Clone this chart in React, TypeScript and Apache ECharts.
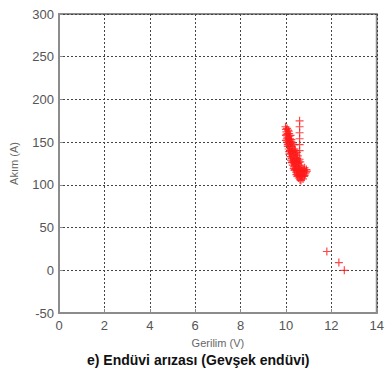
import React, { useEffect, useRef } from "react";
import * as echarts from "echarts";

const xTicks = [0, 2, 4, 6, 8, 10, 12, 14];
const yTicks = [-50, 0, 50, 100, 150, 200, 250, 300];

const clusterPoints: [number, number][] = [
  [9.98, 168], [10.0, 165], [10.05, 166], [10.02, 162], [10.08, 160], [10.12, 163], [10.0, 158],
  [10.05, 156], [10.1, 155], [10.15, 157], [10.2, 158], [10.03, 159], [10.09, 164], [10.14, 160],
  [10.0, 152], [10.05, 150], [10.1, 149], [10.15, 151], [10.2, 148], [10.25, 150], [10.3, 149], [10.35, 147],
  [10.04, 154], [10.12, 153], [10.18, 154], [10.24, 153], [10.08, 147], [10.16, 146], [10.26, 145],
  [10.08, 145], [10.12, 142], [10.18, 140], [10.22, 143], [10.28, 141], [10.32, 139], [10.38, 142], [10.42, 140], [10.48, 138],
  [10.14, 139], [10.2, 137], [10.26, 138], [10.34, 136], [10.4, 137], [10.45, 135], [10.52, 134],
  [10.15, 136], [10.2, 133], [10.25, 131], [10.3, 134], [10.35, 130], [10.4, 132], [10.45, 129], [10.5, 131], [10.55, 128], [10.6, 130],
  [10.22, 129], [10.28, 127], [10.33, 128], [10.38, 126], [10.44, 127], [10.5, 125], [10.56, 126], [10.63, 127],
  [10.25, 126], [10.3, 123], [10.35, 121], [10.42, 124], [10.48, 122], [10.55, 120], [10.6, 123], [10.68, 121], [10.75, 119], [10.82, 120], [10.9, 118],
  [10.34, 119], [10.4, 118], [10.46, 119], [10.52, 117], [10.58, 118], [10.65, 117], [10.72, 116], [10.8, 117], [10.88, 115],
  [10.38, 117], [10.45, 115], [10.5, 113], [10.56, 116], [10.62, 114], [10.7, 112], [10.78, 115], [10.85, 113], [10.92, 116],
  [10.46, 112], [10.53, 111], [10.6, 111], [10.66, 110], [10.73, 110], [10.82, 111],
  [10.5, 110], [10.56, 108], [10.62, 106], [10.68, 109], [10.75, 107], [10.8, 110], [10.66, 105],
];
const columnPoints: [number, number][] = [
  [10.6, 175], [10.6, 168], [10.6, 161], [10.6, 154], [10.6, 147], [10.6, 140],
];
const outlierPoints: [number, number][] = [
  [11.8, 22], [12.33, 9], [12.57, 0],
];

const plusSymbol =
  "path://M-1,-0.15 L1,-0.15 L1,0.15 L-1,0.15 Z M-0.15,-1 L0.15,-1 L0.15,1 L-0.15,1 Z";

export default function App() {
  const ref = useRef<HTMLDivElement>(null);
  useEffect(() => {
    if (!ref.current) return;
    const chart = echarts.init(ref.current, null, { renderer: "svg" });
    const labelStyle = { color: "#555", fontSize: 13, fontFamily: "Liberation Sans, Arial, sans-serif" };
    const split = { show: true, lineStyle: { color: "#444", type: [2, 2] as any, width: 1 } };
    chart.setOption({
      animation: false,
      backgroundColor: "#fff",
      grid: { left: 58, right: 7, top: 14, bottom: 60, show: true, borderColor: "#8c8c8c", borderWidth: 2, backgroundColor: "transparent" },
      xAxis: {
        type: "value", min: xTicks[0], max: xTicks[xTicks.length - 1], interval: 2,
        name: "Gerilim (V)", nameLocation: "middle", nameGap: 24,
        nameTextStyle: { color: "#666", fontSize: 11, fontFamily: "Liberation Sans, Arial, sans-serif" },
        axisLine: { show: true, onZero: false, lineStyle: { color: "#8c8c8c", width: 2 } },
        axisTick: { show: true, inside: true, length: 4, lineStyle: { color: "#8c8c8c" } },
        axisLabel: { ...labelStyle, margin: 6 },
        splitLine: split,
      },
      yAxis: {
        type: "value", min: yTicks[0], max: yTicks[yTicks.length - 1], interval: 50,
        name: "Akım (A)", nameLocation: "middle", nameGap: 40, nameRotate: 90,
        nameTextStyle: { color: "#666", fontSize: 11, fontFamily: "Liberation Sans, Arial, sans-serif" },
        axisLine: { show: true, onZero: false, lineStyle: { color: "#8c8c8c", width: 2 } },
        axisTick: { show: true, inside: true, length: 4, lineStyle: { color: "#8c8c8c" } },
        axisLabel: { ...labelStyle, margin: 5 },
        splitLine: split,
      },
      graphic: [
        {
          type: "text", left: 87, top: 353,
          style: {
            text: "e) Endüvi arızası (Gevşek endüvi)", fill: "#111",
            font: "bold 14px 'Liberation Sans', Arial, sans-serif",
          },
        },
      ],
      series: [
        { type: "scatter", data: clusterPoints, symbol: plusSymbol, symbolSize: 8, itemStyle: { color: "#ff1a1a" }, silent: true },
        { type: "scatter", data: columnPoints, symbol: plusSymbol, symbolSize: 8, itemStyle: { color: "#ff1a1a" }, silent: true },
        { type: "scatter", data: outlierPoints, symbol: plusSymbol, symbolSize: 8, itemStyle: { color: "#ff1a1a" }, silent: true },
      ],
    });
    return () => chart.dispose();
  }, []);
  return <div ref={ref} style={{ width: 387, height: 373, position: "absolute", left: 0, top: 0 }} />;
}
